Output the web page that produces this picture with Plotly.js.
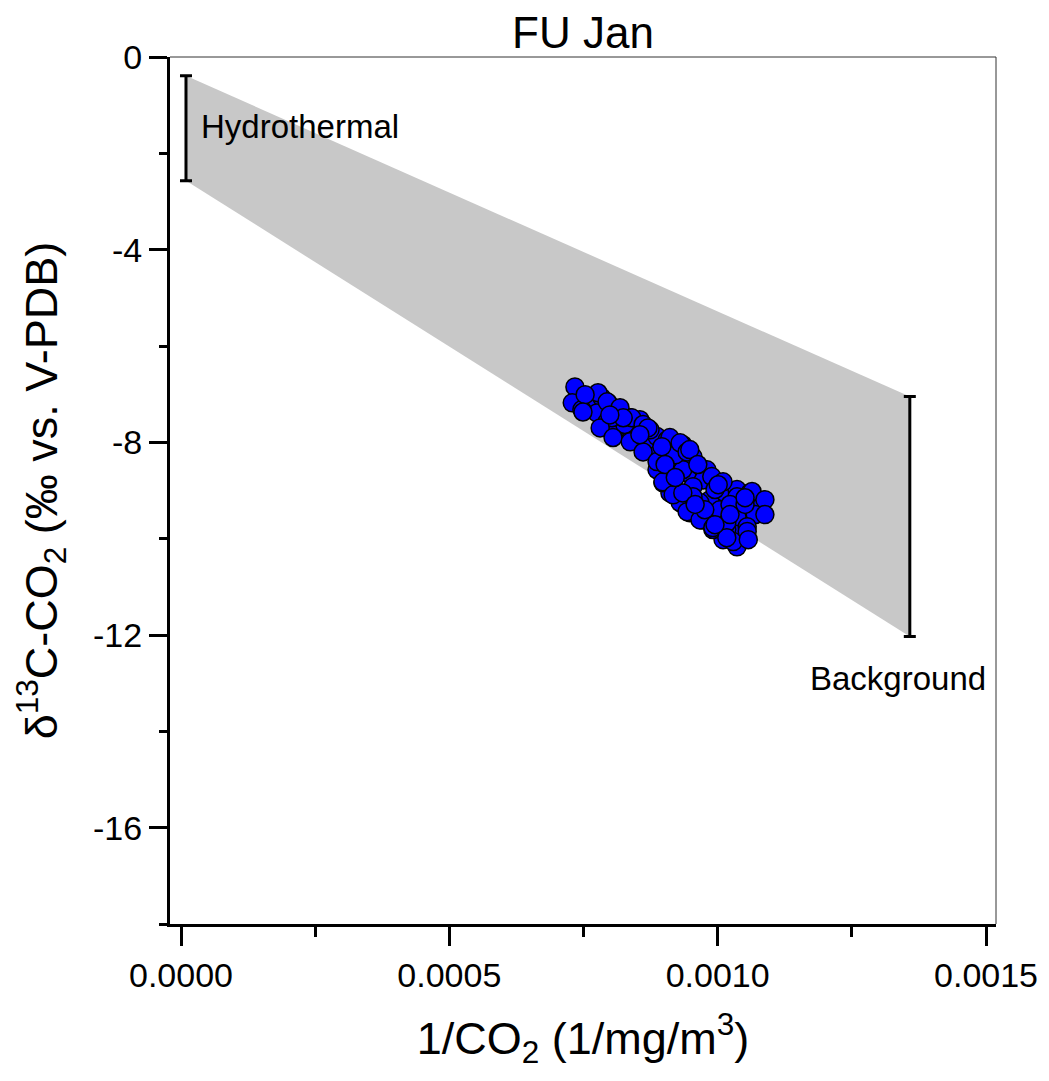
<!DOCTYPE html>
<html>
<head>
<meta charset="utf-8">
<script src="https://cdn.plot.ly/plotly-3.0.1.min.js"></script>
<style>html,body{margin:0;padding:0;background:#fff;}#chart{width:1049px;height:1081px;}</style>
</head>
<body>
<div id="chart"></div>
<script>
// Measured points: 1/CO2 (1/mg/m3) and delta13C (permil)
const invCO2 = [
  0.000734, 0.000729, 0.000760, 0.000784, 0.000796, 0.000775, 0.000794, 0.000814, 0.000812, 0.000837,
  0.000855, 0.000837, 0.000865, 0.000887, 0.000906, 0.000887, 0.000935, 0.000893, 0.000902, 0.000930,
  0.000954, 0.000980, 0.000973, 0.000917, 0.000943, 0.000962, 0.000986, 0.001014, 0.001036, 0.001060,
  0.001073, 0.001055, 0.001042, 0.001017, 0.001036, 0.000991, 0.000967, 0.001004, 0.000943, 0.000911,
  0.000954, 0.000861, 0.000887, 0.000911, 0.000935, 0.000989, 0.001036, 0.001064, 0.001079, 0.001070,
  0.001036, 0.001017, 0.001010, 0.000991, 0.000971, 0.000948, 0.000930, 0.000911, 0.000898, 0.000954,
  0.001055, 0.000827, 0.000747, 0.000777, 0.001088, 0.001029, 0.000803, 0.000874, 0.000921, 0.000995,
  0.001023, 0.001051, 0.000753,
  0.000781, 0.000805, 0.000837, 0.000861, 0.000887, 0.000898, 0.000917, 0.000943, 0.000967, 0.000991,
  0.001017, 0.001055, 0.000794, 0.000818, 0.000840, 0.000861, 0.000911, 0.000930, 0.000943, 0.001010,
  0.000749, 0.000824, 0.000870, 0.000896, 0.000948, 0.000963, 0.001001, 0.001051, 0.001088, 0.001023,
  0.000976, 0.000935, 0.000902, 0.000855, 0.000799, 0.001057, 0.000995, 0.000958, 0.000921
];
const d13C = [
  -6.85, -7.18, -7.12, -7.07, -7.18, -7.39, -7.57, -7.32, -7.78, -7.49,
  -7.53, -7.95, -8.11, -7.88, -7.95, -8.26, -8.05, -8.57, -8.78, -8.36,
  -8.30, -8.57, -8.78, -8.92, -9.19, -9.46, -9.19, -9.05, -8.98, -9.05,
  -9.40, -9.54, -9.75, -9.81, -10.17, -9.54, -9.25, -9.40, -8.63, -8.51,
  -8.92, -7.68, -8.57, -8.63, -8.57, -8.71, -9.13, -9.02, -9.36, -9.50,
  -9.54, -9.67, -10.02, -9.81, -9.61, -9.46, -9.25, -9.05, -8.84, -9.13,
  -9.75, -7.63, -7.32, -6.97, -9.19, -10.06, -7.49, -7.74, -8.26, -8.98,
  -9.29, -9.29, -7.01,
  -7.70, -7.90, -7.99, -8.20, -8.40, -8.82, -9.09, -9.44, -9.61, -9.77,
  -9.98, -9.85, -7.16, -7.28, -7.49, -7.63, -7.90, -8.01, -8.20, -8.82,
  -7.37, -7.49, -7.70, -8.09, -8.15, -8.46, -8.88, -9.15, -9.50, -9.50,
  -9.40, -9.05, -8.46, -7.84, -7.43, -10.02, -9.71, -9.29, -8.73
];

// End-member ranges
const endX = [0.0000093, 0.001358];          // hydrothermal, background
const endTop = [-0.39, -7.05];
const endBottom = [-2.57, -12.03];
const endLabels = ["Hydrothermal", "Background"];

const yTickVals = [0, -4, -8, -12, -16];
const yTickText = ["0", "-4", "-8", "-12", "-16"];
const xTickVals = [0, 0.0005, 0.001, 0.0015];
const xTickText = ["0.0000", "0.0005", "0.0010", "0.0015"];

const bandX = [endX[0], endX[1], endX[1], endX[0], endX[0]];
const bandY = [endTop[0], endTop[1], endBottom[1], endBottom[0], endTop[0]];

const mids = endX.map((_, i) => (endTop[i] + endBottom[i]) / 2);
const half = endX.map((_, i) => (endTop[i] - endBottom[i]) / 2);

const font = "Liberation Sans, Arial, sans-serif";

const traces = [
  {
    x: bandX, y: bandY, type: "scatter", mode: "lines",
    fill: "toself", fillcolor: "#c8c8c8", line: {width: 0, color: "#c8c8c8"},
    hoverinfo: "skip", showlegend: false
  },
  {
    x: endX, y: mids, type: "scatter", mode: "markers",
    marker: {size: 1, color: "rgba(0,0,0,0)"},
    error_y: {type: "data", array: half, visible: true, color: "#000", thickness: 3, width: 6},
    showlegend: false
  },
  {
    x: invCO2, y: d13C, type: "scatter", mode: "markers",
    marker: {size: 18, color: "#0000ff", line: {color: "#000", width: 1.5}},
    showlegend: false
  }
];

const layout = {
  width: 1049, height: 1081,
  margin: {l: 170, r: 53, t: 57, b: 157},
  paper_bgcolor: "#fff", plot_bgcolor: "#fff",
  font: {family: font, color: "#000"},
  title: {text: "FU Jan", font: {size: 44, family: font}, x: 0.5558, xanchor: "center", y: 0.970, yanchor: "middle"},
  xaxis: {
    range: [-0.0000205, 0.0015186],
    tickvals: xTickVals, ticktext: xTickText,
    ticks: "outside", ticklen: 19, tickwidth: 3, tickcolor: "#000",
    minor: {tickvals: [0.00025, 0.00075, 0.00125], ticks: "outside", ticklen: 10, tickwidth: 3, tickcolor: "#000"},
    showline: true, linewidth: 3, linecolor: "#000",
    showgrid: false, zeroline: false,
    tickfont: {size: 34, family: font},
    title: {text: "1/CO<sub>2</sub> (1/mg/m<sup>3</sup>)", font: {size: 45, family: font}, standoff: 30}
  },
  yaxis: {
    range: [-18, 0],
    tickvals: yTickVals, ticktext: yTickText,
    ticks: "outside", ticklen: 18, tickwidth: 3, tickcolor: "#000",
    minor: {dtick: 2, tick0: 0, ticks: "outside", ticklen: 8, tickwidth: 3, tickcolor: "#000"},
    showline: true, linewidth: 3, linecolor: "#000",
    showgrid: false, zeroline: false,
    tickfont: {size: 34, family: font},
    title: {text: "δ<sup>13</sup>C-CO<sub>2</sub> (‰ vs. V-PDB)", font: {size: 45, family: font}, standoff: 22}
  },
  shapes: [
    {type: "line", xref: "paper", yref: "paper", x0: 0, x1: 1, y0: 1, y1: 1, line: {color: "#333", width: 1}},
    {type: "line", xref: "paper", yref: "paper", x0: 1, x1: 1, y0: 0, y1: 1, line: {color: "#333", width: 1}}
  ],
  annotations: [
    {x: 0.0000335, y: -1.45, xref: "x", yref: "y", text: endLabels[0], showarrow: false, xanchor: "left", yanchor: "middle", font: {size: 33, family: font}},
    {x: 0.001168, y: -12.9, xref: "x", yref: "y", text: endLabels[1], showarrow: false, xanchor: "left", yanchor: "middle", font: {size: 33, family: font}}
  ]
};

Plotly.newPlot("chart", traces, layout, {displayModeBar: false, staticPlot: true});
</script>
</body>
</html>
